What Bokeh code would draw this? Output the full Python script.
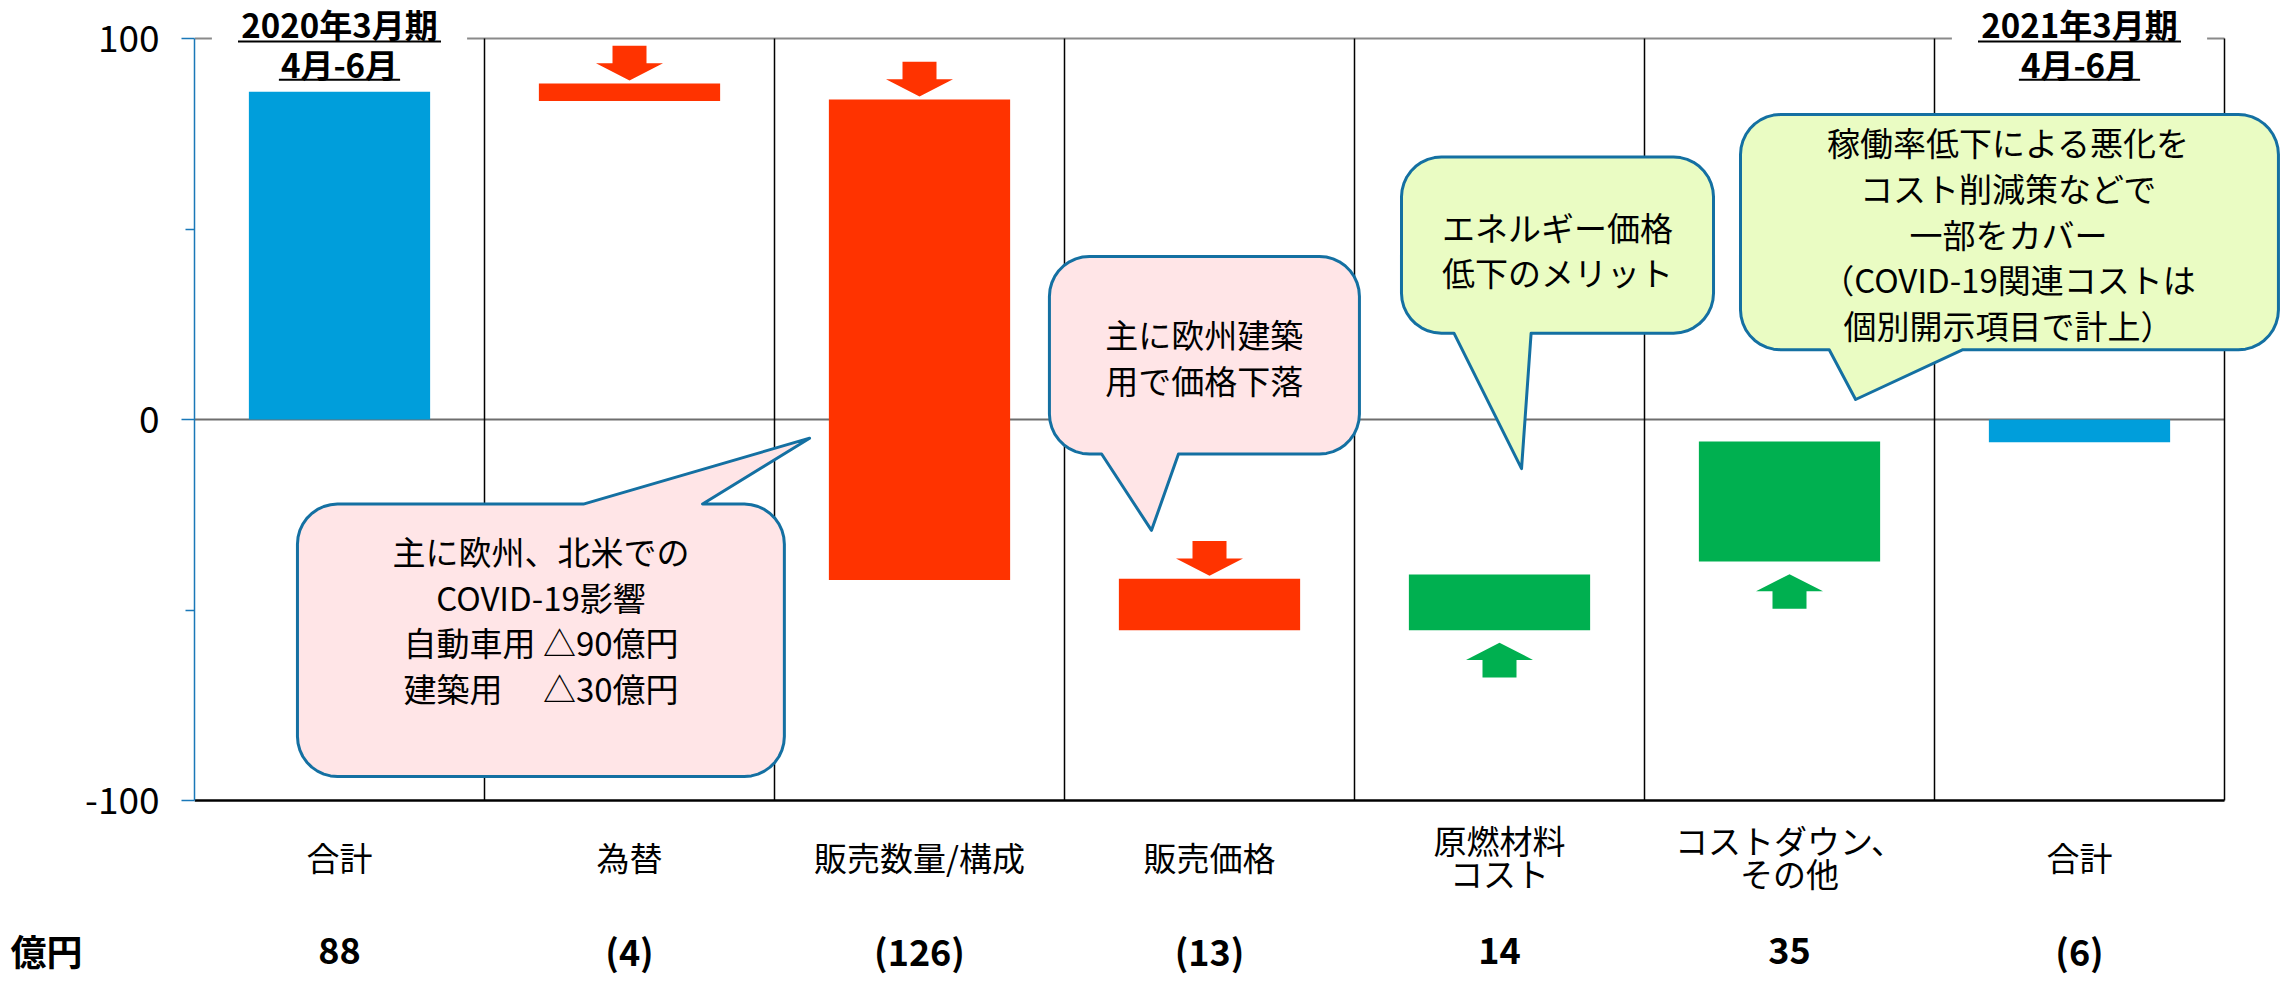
import numpy as np
from bokeh.plotting import figure
from bokeh.models import Range1d, FixedTicker, LinearAxis
from bokeh.core.properties import value
from bokeh.embed import file_html
from bokeh.resources import INLINE

# ---------------- data ----------------
categories = ["合計", "為替", "販売数量/構成", "販売価格", "原燃材料\nコスト", "コストダウン、\nその他", "合計"]
value_labels = ["88", "(4)", "(126)", "(13)", "14", "35", "(6)"]
bar_start = [0.0, 88.2, 84.0, -41.8, -55.3, -37.3, 0.0]
bar_end = [86.0, 83.6, -42.1, -55.3, -40.7, -5.8, -6.0]
bar_kind = ["total", "down", "down", "down", "up", "up", "total"]
y_ticks = [-100, 0, 100]
y_minor_ticks = [-50, 50]
y_tick_text = {-100: "-100", 0: "0", 100: "100"}
period_index = [0, 6]
period_line1 = ["2020年3月期", "2021年3月期"]
period_line2 = ["4月-6月", "4月-6月"]
unit_label = "億円"

callout_texts = [
    "主に欧州、北米での\nCOVID-19影響\n自動車用 △90億円\n建築用　 △30億円",
    "主に欧州建築\n用で価格下落",
    "エネルギー価格\n低下のメリット",
    "稼働率低下による悪化を\nコスト削減策などで\n一部をカバー\n（COVID-19関連コストは\n個別開示項目で計上）",
]

# ---------------- style ----------------
FONT = "Noto Sans CJK JP"
KIND_COLOR = {"total": "#009EDB", "down": "#FF3300", "up": "#00B050"}
BAR_W = 0.625
PINK = "#FFE5E7"
LGREEN = "#EAFCC3"
CALLOUT_LINE = "#1470A2"
AXIS_BLUE = "#1A78B8"
ROW_Y = -139.3   # data row for the value line under the categories

# callout layout (data coordinates of the boxes / pointers)
callouts = [
    dict(x0=0.355, x1=2.034, y0=-93.7, y1=-22.2, side="top", b=(1.341, 1.752), tip=(2.121, -4.9),
         fill=PINK, tx=1.195, ty=-52.5),
    dict(x0=2.948, x1=4.017, y0=-9.06, y1=42.8, side="bottom", b=(3.128, 3.393), tip=(3.300, -29.1),
         fill=PINK, tx=3.482, ty=16.4),
    dict(x0=4.162, x1=5.238, y0=22.65, y1=68.9, side="bottom", b=(4.343, 4.609), tip=(4.576, -12.9),
         fill=LGREEN, tx=4.70, ty=44.6),
    dict(x0=5.331, x1=7.186, y0=18.3, y1=80.05, side="bottom", b=(5.637, 6.096), tip=(5.728, 5.25),
         fill=LGREEN, tx=6.255, ty=48.8),
]

W, H = 2287, 984
LEFT = 194
TOP100 = 38      # pixel row of y = 100
BOT100 = 800     # pixel row of y = -100
PX_X = 290.0
PX_Y = (BOT100 - TOP100) / 200.0
x_end = (W - LEFT) / PX_X
y_top = 100 + TOP100 / PX_Y
y_bot = -100 - (H - BOT100) / PX_Y

p = figure(width=W, height=H, output_backend="svg", toolbar_location=None,
           x_range=Range1d(0, x_end), y_range=Range1d(y_bot, y_top),
           x_axis_location=None, min_border_left=LEFT, min_border_right=0,
           min_border_top=0, min_border_bottom=0)
p.outline_line_color = None
p.xgrid.visible = False
p.ygrid.visible = False
p.background_fill_color = "white"

ax = p.yaxis[0]
ax.bounds = (-100, 100)
ax.ticker = FixedTicker(ticks=y_ticks, minor_ticks=y_minor_ticks)
ax.major_label_overrides = y_tick_text
ax.axis_line_color = AXIS_BLUE
ax.axis_line_width = 1.5
ax.major_tick_line_color = AXIS_BLUE
ax.major_tick_line_width = 1.5
ax.major_tick_out = 13
ax.major_tick_in = 0
ax.minor_tick_line_color = AXIS_BLUE
ax.minor_tick_line_width = 1.5
ax.minor_tick_out = 9
ax.minor_tick_in = 0
ax.major_label_text_font = FONT
ax.major_label_text_font_size = "37px"
ax.major_label_text_color = "black"
ax.major_label_standoff = 22

# unit label "億円" as an outer left axis with one labelled tick on the value row
unit_axis = LinearAxis(ticker=FixedTicker(ticks=[ROW_Y], minor_ticks=[]),
                       major_label_overrides={ROW_Y: unit_label},
                       axis_line_color=None, major_tick_line_color=None, minor_tick_line_color=None,
                       major_tick_out=0, major_tick_in=0, minor_tick_out=0, minor_tick_in=0,
                       major_label_standoff=0, major_label_text_font=FONT,
                       major_label_text_font_size="36px", major_label_text_font_style="bold",
                       major_label_text_color="black")
p.add_layout(unit_axis, "left")

n = len(categories)
centers = [i + 0.5 for i in range(n)]

# ---------------- frame lines ----------------
p.segment(x0=[0], y0=[100], x1=[n], y1=[100], line_color="#8A8A8A", line_width=2)
p.segment(x0=[0], y0=[0], x1=[n], y1=[0], line_color="#6E6E6E", line_width=2)
p.segment(x0=list(range(1, n + 1)), y0=[-100] * n, x1=list(range(1, n + 1)), y1=[100] * n,
          line_color="black", line_width=1.5)
p.segment(x0=[0], y0=[-100], x1=[n], y1=[-100], line_color="black", line_width=2.5)

# white label backgrounds interrupting the top line
p.quad(left=[centers[i] - 0.44 for i in period_index], right=[centers[i] + 0.44 for i in period_index],
       bottom=[98.3] * len(period_index), top=[101.7] * len(period_index),
       fill_color="white", line_color=None)

# ---------------- bars ----------------
p.quad(left=[c - BAR_W / 2 for c in centers], right=[c + BAR_W / 2 for c in centers],
       bottom=[min(a, b) for a, b in zip(bar_start, bar_end)],
       top=[max(a, b) for a, b in zip(bar_start, bar_end)],
       fill_color=[KIND_COLOR[k] for k in bar_kind], line_color=None)

# ---------------- arrows ----------------
SW, HW = 34 / PX_X, 67 / PX_X
HEAD_H, TOT_H = 4.5, 9.1
GAP_DOWN, GAP_UP = 0.8, 3.3
axs, ays, acol = [], [], []
for i, k in enumerate(bar_kind):
    c = centers[i]
    if k == "down":
        tip = max(bar_start[i], bar_end[i]) + GAP_DOWN
        hb, tail = tip + HEAD_H, tip + TOT_H
    elif k == "up":
        tip = min(bar_start[i], bar_end[i]) - GAP_UP
        hb, tail = tip - HEAD_H, tip - TOT_H
    else:
        continue
    axs.append([c - SW / 2, c + SW / 2, c + SW / 2, c + HW / 2, c, c - HW / 2, c - SW / 2])
    ays.append([tail, tail, hb, hb, tip, hb, hb])
    acol.append(KIND_COLOR[k])
p.patches(xs=axs, ys=ays, fill_color=acol, line_color=None)


# ---------------- callouts ----------------
def callout_shape(c, r_px=40, steps=10):
    x0, x1, y0, y1 = c["x0"], c["x1"], c["y0"], c["y1"]
    rx, ry = r_px / PX_X, r_px / PX_Y
    xs, ys = [], []

    def arc(cx, cy, a0, a1):
        for t in np.linspace(np.radians(a0), np.radians(a1), steps):
            xs.append(cx + rx * np.cos(t))
            ys.append(cy + ry * np.sin(t))

    b1, b2 = c["b"]
    tx, ty = c["tip"]
    arc(x0 + rx, y1 - ry, 180, 90)
    if c["side"] == "top":
        xs += [b1, tx, b2]
        ys += [y1, ty, y1]
    arc(x1 - rx, y1 - ry, 90, 0)
    arc(x1 - rx, y0 + ry, 0, -90)
    if c["side"] == "bottom":
        xs += [b2, tx, b1]
        ys += [y0, ty, y0]
    arc(x0 + rx, y0 + ry, -90, -180)
    return xs, ys


cxs, cys = [], []
for c in callouts:
    a, b = callout_shape(c)
    cxs.append(a)
    cys.append(b)
p.patches(xs=cxs, ys=cys, fill_color=[c["fill"] for c in callouts],
          line_color=CALLOUT_LINE, line_width=3, line_join="round")

p.text(x=[c["tx"] for c in callouts], y=[c["ty"] for c in callouts], text=callout_texts,
       text_font=value(FONT), text_font_size="33px", text_color="black",
       text_align="center", text_baseline="middle", text_line_height=0.95)

# ---------------- period headers ----------------
p.text(x=[centers[i] for i in period_index], y=[103.8] * len(period_index), text=period_line1,
       text_font=value(FONT), text_font_size="33px", text_font_style="bold",
       text_align="center", text_baseline="middle", text_color="black")
p.text(x=[centers[i] for i in period_index], y=[93.3] * len(period_index), text=period_line2,
       text_font=value(FONT), text_font_size="33px", text_font_style="bold",
       text_align="center", text_baseline="middle", text_color="black")
p.segment(x0=[centers[i] - 0.35 for i in period_index], y0=[99.2] * 2,
          x1=[centers[i] + 0.35 for i in period_index], y1=[99.2] * 2, line_color="black", line_width=2)
p.segment(x0=[centers[i] - 0.209 for i in period_index], y0=[89.2] * 2,
          x1=[centers[i] + 0.209 for i in period_index], y1=[89.2] * 2, line_color="black", line_width=2)

# ---------------- category labels & values ----------------
p.text(x=centers, y=[-114.7] * n, text=categories, text_font=value(FONT), text_font_size="33px",
       text_align="center", text_baseline="middle", text_line_height=0.7, text_color="black")
p.text(x=centers, y=[ROW_Y] * n, text=value_labels, text_font=value(FONT), text_font_size="36px",
       text_font_style="bold", text_align="center", text_baseline="middle", text_color="black")

open("out.html", "w").write(file_html(p, INLINE))
